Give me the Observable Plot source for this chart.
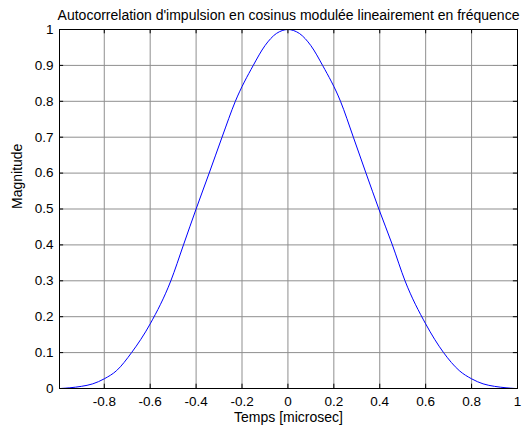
<!DOCTYPE html>
<html>
<head>
<meta charset="utf-8">
<script src="https://cdn.jsdelivr.net/npm/d3@7"></script>
<script src="https://cdn.jsdelivr.net/npm/@observablehq/plot@0.6"></script>
<style>
  html, body { margin: 0; padding: 0; background: #fff; }
  svg { display: block; }
</style>
</head>
<body>
<div id="chart"></div>
<script>
const title = "Autocorrelation d'impulsion en cosinus modulée lineairement en fréquence";
const xLabel = "Temps [microsec]";
const yLabel = "Magnitude";

const timeValues = [
  -0.99, -0.95, -0.9, -0.85, -0.8, -0.746, -0.681, -0.6, -0.51,
  -0.455, -0.4, -0.343, -0.287, -0.229, -0.151, -0.1, -0.05, -0.025, 0,
  0.025, 0.05, 0.1, 0.151, 0.229, 0.285, 0.34, 0.396, 0.455, 0.51,
  0.6, 0.678, 0.746, 0.8, 0.85, 0.9, 0.95, 0.99
];
const magnitudeValues = [
  0, 0.002, 0.006, 0.013, 0.027, 0.05, 0.1, 0.18, 0.3,
  0.4, 0.5, 0.6, 0.7, 0.8, 0.9, 0.955, 0.989, 0.997, 1,
  0.997, 0.989, 0.955, 0.9, 0.8, 0.7, 0.6, 0.5, 0.4, 0.3,
  0.18, 0.1, 0.05, 0.027, 0.013, 0.006, 0.002, 0
];
const xTicks = [-0.8, -0.6, -0.4, -0.2, 0, 0.2, 0.4, 0.6, 0.8, 1];
const yTicks = [0, 0.1, 0.2, 0.3, 0.4, 0.5, 0.6, 0.7, 0.8, 0.9, 1];

const data = timeValues.map((t, i) => ({t, m: magnitudeValues[i]}));
const xMin = -0.995, xMax = 1;

const chart = Plot.plot({
  width: 530,
  height: 432,
  marginLeft: 59,
  marginRight: 13,
  marginTop: 29,
  marginBottom: 44,
  style: {fontFamily: "'Liberation Sans', Arial, sans-serif", fontSize: "13px", background: "#fff", color: "#000"},
  x: {domain: [xMin, xMax], ticks: xTicks, label: null},
  y: {domain: [0, 1], ticks: yTicks, label: null},
  marks: [
    Plot.ruleX(xTicks, {x: d => d, stroke: "#8f8f8f", strokeWidth: 1}),
    Plot.ruleY(yTicks, {y: d => d, stroke: "#8f8f8f", strokeWidth: 1}),
    Plot.ruleX(xTicks, {x: d => d, y1: 0, y2: 0.012, stroke: "#000"}),
    Plot.ruleX(xTicks, {x: d => d, y1: 0.988, y2: 1, stroke: "#000"}),
    Plot.ruleY(yTicks, {y: d => d, x1: xMin, x2: xMin + 0.018, stroke: "#000"}),
    Plot.ruleY(yTicks, {y: d => d, x1: xMax - 0.018, x2: xMax, stroke: "#000"}),
    Plot.line(data, {x: "t", y: "m", stroke: "#0000ff", strokeWidth: 1, curve: "monotone-x"}),
    Plot.frame({stroke: "#000", strokeWidth: 1}),
    Plot.axisX(xTicks, {tickSize: 0, tickPadding: 8, fontSize: 13.5, tickFormat: d => String(d)}),
    Plot.axisY(yTicks, {tickSize: 0, tickPadding: 6, fontSize: 13.5, tickFormat: d => String(d)}),
    Plot.text([title], {frameAnchor: "top", dy: -19, fontSize: 14, text: d => d}),
    Plot.text([xLabel], {frameAnchor: "bottom", dy: 33, fontSize: 14, text: d => d}),
    Plot.text([yLabel], {frameAnchor: "left", dx: -42, rotate: -90, fontSize: 14, text: d => d})
  ]
});
document.getElementById("chart").appendChild(chart);
</script>
</body>
</html>
